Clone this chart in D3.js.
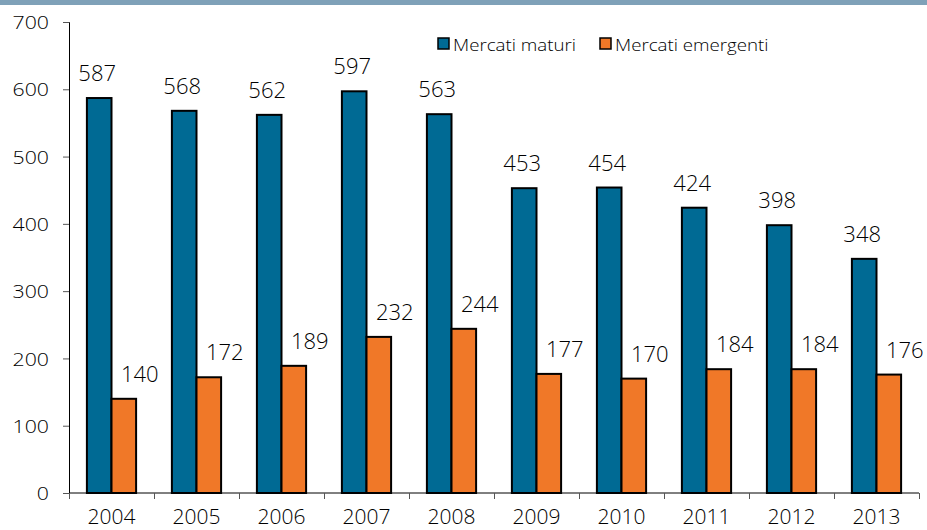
<!DOCTYPE html>
<meta charset="utf-8">
<script src="https://cdn.jsdelivr.net/npm/d3@7"></script>
<style>
  body { margin: 0; background: #fff; }
  text { font-family: "Open Sans", "Noto Sans", sans-serif; font-weight: 300; fill: #000; }
</style>
<div id="my_dataviz"></div>
<script>
// data
var years = ["2004", "2005", "2006", "2007", "2008", "2009", "2010", "2011", "2012", "2013"];
var maturi = [587, 568, 562, 597, 563, 453, 454, 424, 398, 348];
var emergenti = [140, 172, 189, 232, 244, 177, 170, 184, 184, 176];
var seriesNames = ["Mercati maturi", "Mercati emergenti"];
var seriesColors = ["#006a94", "#f07828"];
var yTicks = [0, 100, 200, 300, 400, 500, 600, 700];

var W = 927, H = 530;
var margin = {top: 22, right: 8, bottom: 37, left: 69},
    width = 850,
    height = H - margin.top - margin.bottom;

var root = d3.select("#my_dataviz")
  .append("svg")
    .attr("width", W)
    .attr("height", H);

// header band (cut off in the original)
root.append("rect")
  .attr("x", 0).attr("y", 0)
  .attr("width", W).attr("height", 5)
  .attr("fill", "#7fa1b8");

var svg = root.append("g")
  .attr("transform", "translate(" + margin.left + "," + margin.top + ")");

var x = d3.scaleBand()
  .domain(years)
  .range([0, width])
  .padding(0);

var x1 = d3.scaleBand()
  .domain([0, 1])
  .range([x.bandwidth() / 2 - 24.6, x.bandwidth() / 2 + 24.6])
  .padding(0);

var y = d3.scaleLinear()
  .domain([0, 700])
  .range([height, 0]);

// y axis
var yAxis = svg.append("g")
  .call(d3.axisLeft(y).tickValues(yTicks).tickSize(6).tickPadding(14));
yAxis.selectAll("text")
  .style("font-size", "19px")
  .attr("dy", "0.35em")
  .attr("x", 0)
  .attr("transform", "translate(-20,0) scale(1.12,1)");
yAxis.select(".domain").attr("stroke", "#000").attr("d", "M-6,0.5H0.5V" + height);
yAxis.selectAll(".tick line").attr("stroke", "#555");

// x axis: ticks at category boundaries
var xAxisG = svg.append("g")
  .attr("transform", "translate(0," + height + ")");
xAxisG.append("line")
  .attr("x1", 0).attr("x2", width)
  .attr("stroke", "#000");
xAxisG.selectAll(".bound")
  .data(d3.range(years.length + 1))
  .enter()
  .append("line")
    .attr("x1", function(i) { return i * x.bandwidth() + 0.5; })
    .attr("x2", function(i) { return i * x.bandwidth() + 0.5; })
    .attr("y1", 0).attr("y2", 6)
    .attr("stroke", "#555");
xAxisG.selectAll(".yl")
  .data(years)
  .enter()
  .append("text")
    .attr("x", function(d) { return x(d) + x.bandwidth() / 2; })
    .attr("y", 31)
    .attr("text-anchor", "middle")
    .style("font-size", "21px")
    .text(function(d) { return d; });

// bars
var rows = years.map(function(yr, i) {
  return {year: yr, vals: [maturi[i], emergenti[i]]};
});

var groups = svg.selectAll(".grp")
  .data(rows)
  .enter()
  .append("g")
    .attr("transform", function(d) { return "translate(" + x(d.year) + ",0)"; });

groups.selectAll("rect")
  .data(function(d) { return d.vals.map(function(v, k) { return {k: k, v: v}; }); })
  .enter()
  .append("rect")
    .attr("x", function(d) { return x1(d.k); })
    .attr("y", function(d) { return y(d.v); })
    .attr("width", x1.bandwidth())
    .attr("height", function(d) { return height - y(d.v); })
    .attr("fill", function(d) { return seriesColors[d.k]; })
    .attr("stroke", "#000")
    .attr("stroke-width", 2);

// value labels (orange ones sit a bit to the right)
groups.selectAll(".lbl")
  .data(function(d) { return d.vals.map(function(v, k) { return {k: k, v: v}; }); })
  .enter()
  .append("text")
    .attr("x", function(d) { return x1(d.k) + x1.bandwidth() / 2 + (d.k === 1 ? 16 : -2); })
    .attr("y", function(d) { return y(d.v) - 17; })
    .attr("text-anchor", "middle")
    .style("font-size", "22px")
    .text(function(d) { return d.v; });

// legend
var legendX = [438, 600];
var legend = root.selectAll(".leg")
  .data(seriesNames)
  .enter()
  .append("g")
    .attr("transform", function(d, i) { return "translate(" + legendX[i] + ",38)"; });
legend.append("rect")
  .attr("width", 11).attr("height", 11)
  .attr("fill", function(d, i) { return seriesColors[i]; })
  .attr("stroke", "#000")
  .attr("stroke-width", 1.5);
legend.append("text")
  .attr("transform", "translate(15,13) scale(1.1,1)")
  .style("font-size", "17px")
  .text(function(d) { return d; });
</script>
